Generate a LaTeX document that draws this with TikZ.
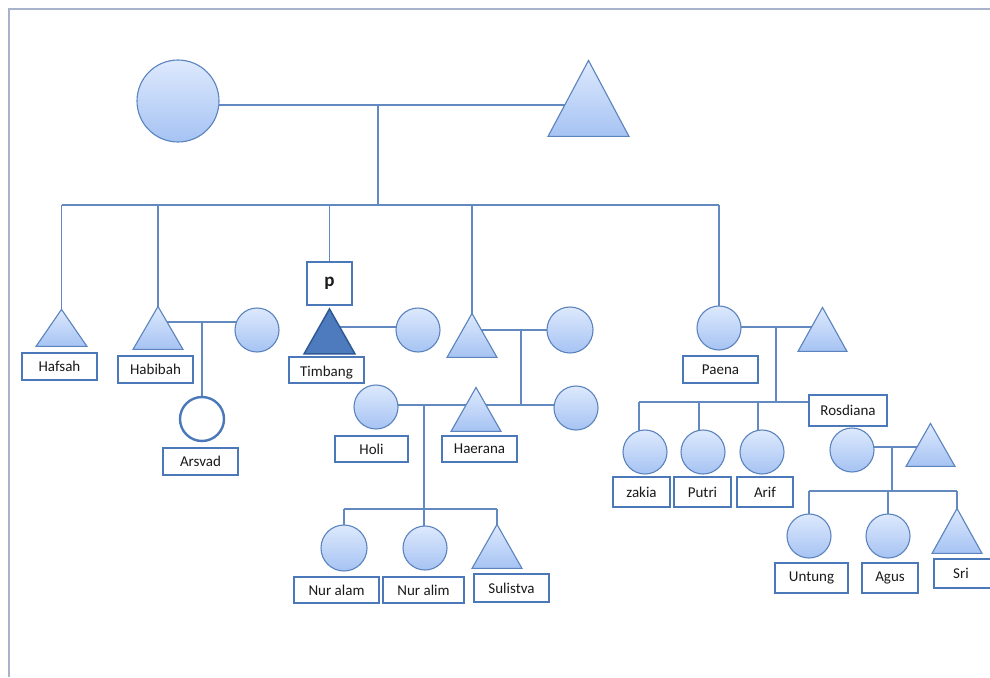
\documentclass[tikz,border=0pt]{standalone}
\usepackage{fontspec}
\setmainfont{Carlito}
\usetikzlibrary{shapes.geometric,backgrounds}
\definecolor{linecol}{HTML}{6289C0}
\definecolor{shapeline}{HTML}{5B83BE}
\definecolor{boxline}{HTML}{4A78B8}
\definecolor{gtop}{HTML}{DDE9FD}
\definecolor{gbot}{HTML}{A6C3F3}
\definecolor{darkfill}{HTML}{4E7BBE}
\definecolor{darkline}{HTML}{2E5A94}
\definecolor{framecol}{HTML}{A7B3CA}
\definecolor{txt}{HTML}{1A1A1A}
\tikzset{
  link/.style={draw=linecol, line width=1.2pt},
  circ/.style={circle, draw=shapeline, line width=1.1pt, top color=gtop, bottom color=gbot, inner sep=0pt},
  tri/.style={isosceles triangle, isosceles triangle stretches, shape border rotate=90, inner sep=0pt, anchor=apex, draw=shapeline, line width=1.1pt, top color=gtop, bottom color=gbot},
  darktri/.style={isosceles triangle, isosceles triangle stretches, shape border rotate=90, inner sep=0pt, anchor=apex, draw=darkline, line width=1.5pt, fill=darkfill},
  namebox/.style={rectangle, draw=boxline, line width=2.4pt, fill=white, inner sep=0pt, text=txt, font=\fontsize{15}{17}\selectfont},
  framebox/.style={draw=framecol, line width=2pt}
}
\begin{document}
\begin{tikzpicture}[x=1pt,y=-1pt]
\useasboundingbox (0,0) rectangle (990,677);
\clip (0,0) rectangle (990,677);
\draw[framebox] (9,677) -- (9,9) -- (990,9);

% generation 1
\node[circ, minimum size=82] (C0) at (178,101) {};
\node[tri, minimum width=81, minimum height=76] (T0) at (588.5,59) {};

% generation 2
\node[tri, minimum width=51, minimum height=37] (hafsah) at (61.5,308) {};
\node[namebox, minimum width=75, minimum height=27] (hafsahbox) at (59.5,366.5) {Hafsah};

\node[tri, minimum width=50, minimum height=43] (habibah) at (158,305) {};
\node[namebox, minimum width=75, minimum height=27] (habibahbox) at (155.5,369.5) {Habibah};
\node[circ, minimum size=44] (hw) at (257,330) {};
\node[circle, draw=boxline, line width=2.4pt, fill=white, minimum size=44, inner sep=0pt] (arsvad) at (202,419) {};
\node[namebox, minimum width=75, minimum height=27] (arsvadbox) at (200.5,461.5) {Arsvad};

\node[namebox, minimum width=45, minimum height=43, font=\fontsize{19}{21}\selectfont\bfseries] (pbox) at (329.5,283.5) {p};
\node[darktri, minimum width=51, minimum height=45] (timbang) at (329.5,307) {};
\node[namebox, minimum width=75, minimum height=26, text depth=0pt] (timbangbox) at (326.5,370) {\raisebox{-3pt}{Timbang}};
\node[circ, minimum size=44] (tw) at (418,330) {};

\node[tri, minimum width=50, minimum height=44] (midT) at (472,312) {};
\node[circ, minimum size=46] (mw1) at (570,330) {};
\node[circ, minimum size=44] (mw2) at (576,408) {};
\node[tri, minimum width=50, minimum height=44] (haerana) at (476,386) {};
\node[namebox, minimum width=75, minimum height=26] (haeranabox) at (479.5,449) {Haerana};
\node[circ, minimum size=44] (holi) at (376,407) {};
\node[namebox, minimum width=73, minimum height=26] (holibox) at (371.5,449) {Holi};

\node[circ, minimum size=46] (nuralam) at (344,548) {};
\node[circ, minimum size=44] (nuralim) at (425,548) {};
\node[tri, minimum width=50, minimum height=44] (sulistva) at (497,523) {};
\node[namebox, minimum width=85, minimum height=26] (nuralambox) at (336.5,590) {Nur alam};
\node[namebox, minimum width=81, minimum height=26] (nuralimbox) at (423.5,590) {Nur alim};
\node[namebox, minimum width=75, minimum height=28] (sulistvabox) at (511.5,588) {Sulistva};

% right family
\node[circ, minimum size=44] (paena) at (719,328) {};
\node[tri, minimum width=49, minimum height=44] (ph) at (822.5,306) {};
\node[namebox, minimum width=75, minimum height=27] (paenabox) at (720.5,369.5) {Paena};

\node[circ, minimum size=44] (zakia) at (645,452) {};
\node[circ, minimum size=44] (putri) at (703,452) {};
\node[circ, minimum size=44] (arif) at (762,452) {};
\node[namebox, minimum width=57, minimum height=30] (zakiabox) at (641.5,492) {zakia};
\node[namebox, minimum width=57, minimum height=30] (putribox) at (702.5,492) {Putri};
\node[namebox, minimum width=56, minimum height=30] (arifbox) at (765,492) {Arif};

\node[namebox, minimum width=78, minimum height=31] (rosbox) at (848,410.5) {Rosdiana};
\node[circ, minimum size=44] (rosc) at (852,450) {};
\node[tri, minimum width=49, minimum height=43] (rh) at (930.5,422) {};

\node[circ, minimum size=44] (untung) at (809,536) {};
\node[circ, minimum size=44] (agus) at (888,536) {};
\node[tri, minimum width=50, minimum height=45] (sri) at (957,507) {};
\node[namebox, minimum width=73, minimum height=30] (untungbox) at (811.5,578) {Untung};
\node[namebox, minimum width=56, minimum height=30] (agusbox) at (890,578) {Agus};
\node[namebox, minimum width=60, minimum height=29] (sribox) at (964,573.5) {\hspace*{-6pt}Sri};

% connectors
\begin{scope}[on background layer]
  \fill[white] (0,0) rectangle (990,677);
  \coordinate (m0) at (378,105);
  \coordinate (b0) at (378,205);
  \draw[link] (C0.center |- m0) -- (T0.center |- m0);
  \draw[link] (m0) -- (b0);
  \draw[link] (hafsah.center |- b0) -- (paena.center |- b0);
  \draw[link] (hafsah.center |- b0) -- (hafsah.center);
  \draw[link] (habibah.center |- b0) -- (habibah.center);
  \draw[link] (pbox.center |- b0) -- (pbox.north);
  \draw[link] (midT.center |- b0) -- (midT.center);
  \draw[link] (paena.center |- b0) -- (paena.center);

  \coordinate (hj) at (202,322);
  \draw[link] (habibah.center |- hj) -- (hw.center |- hj);
  \draw[link] (hj) -- (arsvad.center);

  \coordinate (tj) at (375,327);
  \draw[link] (timbang.center |- tj) -- (tw.center |- tj);

  \coordinate (mj) at (521,330);
  \coordinate (mj2) at (521,405);
  \draw[link] (midT.center |- mj) -- (mw1.center |- mj);
  \draw[link] (mj) -- (mj2);
  \coordinate (hoj) at (424,405);
  \draw[link] (holi.center |- hoj) -- (mw2.center |- hoj);
  \coordinate (nb) at (424,509);
  \draw[link] (hoj) -- (hoj |- nuralim.center);
  \draw[link] (nuralam.center |- nb) -- (sulistva.center |- nb);
  \draw[link] (nuralam.center |- nb) -- (nuralam.center);
  \draw[link] (sulistva.center |- nb) -- (sulistva.center);

  \coordinate (pj) at (776,327);
  \coordinate (pb) at (776,402);
  \draw[link] (paena.center |- pj) -- (ph.center |- pj);
  \draw[link] (pj) -- (pb);
  \draw[link] ([xshift=-6pt]zakia.center |- pb) -- (rosbox.west |- pb);
  \draw[link] ([xshift=-6pt]zakia.center |- pb) -- ([xshift=-6pt]zakia.center);
  \draw[link] ([xshift=-4pt]putri.center |- pb) -- ([xshift=-4pt]putri.center);
  \draw[link] ([xshift=-4pt]arif.center |- pb) -- ([xshift=-4pt]arif.center);

  \coordinate (rj) at (892,447);
  \coordinate (rb) at (892,491);
  \draw[link] (rosc.center |- rj) -- (rh.center |- rj);
  \draw[link] (rj) -- (rb);
  \draw[link] (untung.center |- rb) -- (sri.center |- rb);
  \draw[link] (untung.center |- rb) -- (untung.center);
  \draw[link] (agus.center |- rb) -- (agus.center);
  \draw[link] (sri.center |- rb) -- (sri.center);
\end{scope}
\end{tikzpicture}
\end{document}
